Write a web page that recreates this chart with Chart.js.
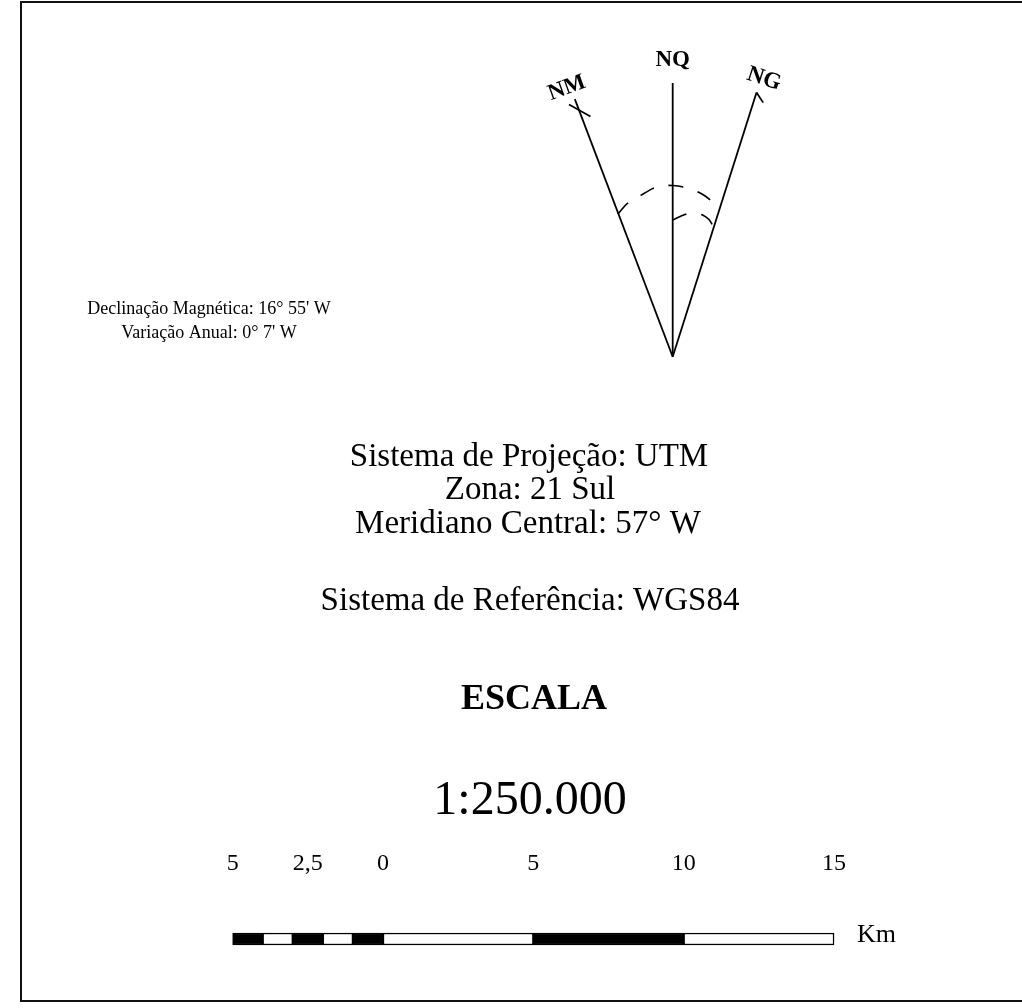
<!DOCTYPE html>
<html lang="pt">
<head>
<meta charset="utf-8">
<title>Declinação magnética e escala</title>
<script src="https://cdn.jsdelivr.net/npm/chart.js@4/dist/chart.umd.min.js"></script>
<style>
  html, body { margin: 0; padding: 0; background: #fff; overflow: hidden; }
  #chart { display: block; }
</style>
</head>
<body>
<canvas id="chart" width="1022" height="1008"></canvas>
<script>
// Norte: nomes, ângulos (graus a partir do NQ) e comprimentos das linhas
const northNames = ['NM', 'NQ', 'NG'];
const northAngles = [-20.8, 0, 17.6];
const northLengths = [275.6, 273.7, 277.2];

// Arcos tracejados entre as direções (ângulo, raio)
const outerArcAngles = [-21, -16.2, -10.3, -5.3, 0, 5.2, 10.2, 15.4];
const outerArcRadii = [152.8, 160.1, 165.4, 170.4, 171.2, 169.1, 165.3, 158.9];
const innerArcAngles = [0, 3, 5.7, 8.9, 12.1, 14.8, 17.5];
const innerArcRadii = [136.7, 140.4, 143.4, 144.9, 144.7, 141.9, 136];

// Escala gráfica (km)
const scaleBreaks = [-5, -4, -3, -2, -1, 0, 5, 10, 15];
const scaleTickValues = [-5, -2.5, 0, 5, 10, 15];
const scaleTickLabels = ['5', '2,5', '0', '5', '10', '15'];

const SERIF = '"Liberation Serif", "Times New Roman", serif';

// ponto polar em relação ao vértice das setas
function polar(angle, r) {
    const a = angle * Math.PI / 180;
    return { x: r * Math.sin(a), y: r * Math.cos(a) };
}

function stroke(points, extra) {
    return Object.assign({
        type: 'line',
        data: points,
        xAxisID: 'ax',
        yAxisID: 'ay',
        borderColor: '#000',
        borderWidth: 1.8,
        pointRadius: 0,
        tension: 0,
        fill: false
    }, extra || {});
}

const datasets = [];

northNames.forEach((name, i) => {
    datasets.push(stroke([polar(0, 0), polar(northAngles[i], northLengths[i])]));
});

// cruz do NM e ponta do NG
const nmIdx = northNames.indexOf('NM');
const ngIdx = northNames.indexOf('NG');
datasets.push(stroke([polar(northAngles[nmIdx] - 1.55, 272.7), polar(northAngles[nmIdx] + 1.9, 253.9)]));
datasets.push(stroke([polar(northAngles[ngIdx], northLengths[ngIdx]), polar(northAngles[ngIdx] + 2, 269.7)]));

datasets.push(stroke(outerArcAngles.map((a, i) => polar(a, outerArcRadii[i])),
    { borderDash: [15, 15], tension: 0.4, borderWidth: 1.6 }));
datasets.push(stroke(innerArcAngles.map((a, i) => polar(a, innerArcRadii[i])),
    { borderDash: [15, 15], tension: 0.4, borderWidth: 1.6 }));

// barra da escala: segmentos alternados preto / branco
const barSegments = [];
const barColors = [];
for (let i = 0; i < scaleBreaks.length - 1; i++) {
    barSegments.push({ x: [scaleBreaks[i], scaleBreaks[i + 1]], y: 933 });
    barColors.push(i % 2 === 0 ? '#000' : '#fff');
}
datasets.push({
    type: 'bar',
    indexAxis: 'y',
    xAxisID: 'xkm',
    yAxisID: 'y',
    data: barSegments,
    backgroundColor: barColors,
    borderColor: '#000',
    borderWidth: 1.5,
    borderSkipped: false,
    barThickness: 12
});

// Textos
const legendText = {
    id: 'legendText',
    afterDraw(chart) {
        const ctx = chart.ctx;
        const sx = chart.scales.x, sy = chart.scales.y;
        const ax = chart.scales.ax, ay = chart.scales.ay;
        const km = chart.scales.xkm;

        ctx.save();
        // moldura
        ctx.strokeStyle = '#111';
        ctx.lineWidth = 2;
        ctx.strokeRect(sx.getPixelForValue(21), sy.getPixelForValue(2),
            sx.getPixelForValue(1040) - sx.getPixelForValue(21),
            sy.getPixelForValue(1001) - sy.getPixelForValue(2));

        ctx.fillStyle = '#000';
        ctx.textAlign = 'center';
        ctx.textBaseline = 'middle';

        const put = (text, x, y, size, weight) => {
            ctx.font = (weight || 'normal') + ' ' + size + 'px ' + SERIF;
            ctx.fillText(text, sx.getPixelForValue(x), sy.getPixelForValue(y));
        };

        // nomes das direções
        const labelAngles = [-21.5, 0, 18.2];
        const labelRadii = [288.7, 297, 292.3];
        const labelTilt = [-20, 0, 18];
        northNames.forEach((name, i) => {
            const p = polar(labelAngles[i], labelRadii[i]);
            ctx.save();
            ctx.translate(ax.getPixelForValue(p.x), ay.getPixelForValue(p.y));
            ctx.rotate(labelTilt[i] * Math.PI / 180);
            ctx.font = 'bold 23px ' + SERIF;
            ctx.fillText(name, 0, 0);
            ctx.restore();
        });

        put('Declinação Magnética: 16° 55\' W', 209, 309, 18);
        put('Variação Anual: 0° 7\' W', 209, 333, 18);

        put('Sistema de Projeção: UTM', 529, 457, 33);
        put('Zona: 21 Sul', 530, 490, 33);
        put('Meridiano Central: 57° W', 528, 524, 33);
        put('Sistema de Referência: WGS84', 530, 601, 33);

        put('ESCALA', 534, 700, 36, 'bold');
        put('1:250.000', 530, 801, 48);

        ctx.font = '24px ' + SERIF;
        scaleTickValues.forEach((v, i) => {
            ctx.fillText(scaleTickLabels[i], km.getPixelForValue(v), sy.getPixelForValue(864));
        });

        ctx.textAlign = 'left';
        ctx.font = '26px ' + SERIF;
        ctx.fillText('Km', sx.getPixelForValue(857), sy.getPixelForValue(935));
        ctx.restore();
    }
};

const pxPerKm = 30.07;
const kmZeroPx = 383;
const apexX = 672.7, apexY = 356.7;

new Chart(document.getElementById('chart'), {
    type: 'scatter',
    data: { datasets: datasets },
    options: {
        responsive: false,
        animation: false,
        devicePixelRatio: 1,
        layout: { padding: 0 },
        plugins: { legend: { display: false }, tooltip: { enabled: false } },
        scales: {
            x: { type: 'linear', min: 0, max: 1022, offset: false, display: false },
            y: { type: 'linear', min: 0, max: 1008, reverse: true, offset: false, display: false },
            ax: { type: 'linear', axis: 'x', min: -apexX, max: 1022 - apexX, offset: false, display: false },
            ay: { type: 'linear', axis: 'y', min: apexY - 1008, max: apexY, offset: false, display: false },
            xkm: { type: 'linear', axis: 'x', min: -kmZeroPx / pxPerKm, max: (1022 - kmZeroPx) / pxPerKm, offset: false, display: false }
        }
    },
    plugins: [legendText]
});
</script>
</body>
</html>
